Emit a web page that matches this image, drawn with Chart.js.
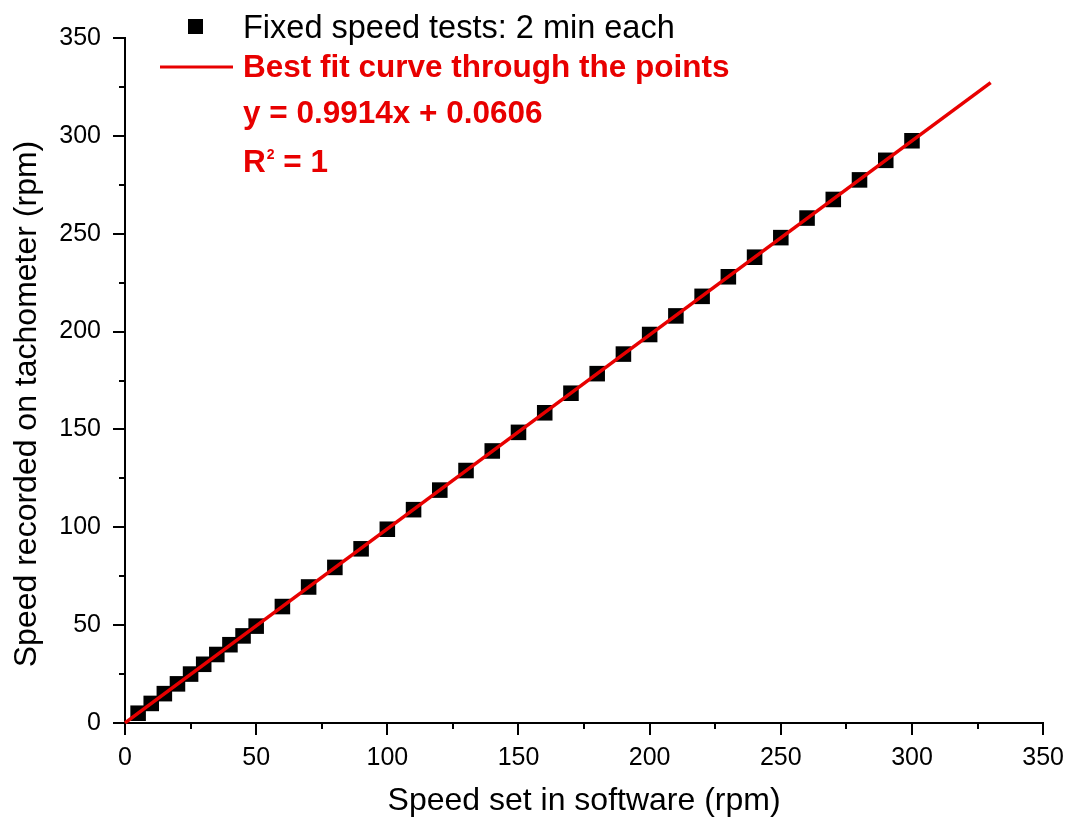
<!DOCTYPE html>
<html>
<head>
<meta charset="utf-8">
<script src="https://cdn.jsdelivr.net/npm/chart.js@4.4.0/dist/chart.umd.min.js"></script>
<style>
  html, body { margin: 0; padding: 0; background: #fff; }
  #wrap { width: 1072px; height: 825px; position: relative; }
</style>
</head>
<body>
<div id="wrap"><canvas id="speedChart"></canvas></div>
<script>
// Speed set in software (rpm)
const speedSet = [5, 10, 15, 20, 25, 30, 35, 40, 45, 50, 60, 70, 80, 90, 100, 110, 120, 130, 140, 150,
  160, 170, 180, 190, 200, 210, 220, 230, 240, 250, 260, 270, 280, 290, 300];
const speedMeasured = [5, 10, 15, 20, 25, 30, 35, 40, 44.5, 49.5, 59.5, 69.5, 79.5, 89, 99, 109, 119, 129, 139, 148.5,
  158.5, 168.5, 178.5, 188.5, 198.5, 208, 218, 228, 238, 248, 258, 267.5, 277.5, 287.5, 297.5];
// best fit line end points
const fitX = [0, 330];
const fitY = [0.06, 327.2];

const legendLabels = ['Fixed speed tests: 2 min each', 'Best fit curve through the points'];
const fitEquation = 'y = 0.9914x + 0.0606';
const yTitle = 'Speed recorded on tachometer (rpm)';
const xTitle = 'Speed set in software (rpm)';

const FONT = "'Liberation Sans', Arial, Helvetica, sans-serif";
const RED = '#e80000';

const pointData = speedSet.map((x, i) => ({ x, y: speedMeasured[i] }));
const fitData = fitX.map((x, i) => ({ x, y: fitY[i] }));

// minor ticks, y title and the in-plot legend
const decorations = {
  id: 'decorations',
  afterDraw(chart) {
    const { ctx, chartArea, scales: { x, y } } = chart;
    ctx.save();
    ctx.strokeStyle = '#000';
    ctx.lineWidth = 2;
    ctx.beginPath();
    x.ticks.forEach(t => {
      if (t.value % 50 === 0) return;
      const px = Math.round(x.getPixelForValue(t.value));
      ctx.moveTo(px, chartArea.bottom);
      ctx.lineTo(px, chartArea.bottom + 6);
    });
    y.ticks.forEach(t => {
      if (t.value % 50 === 0) return;
      const py = Math.round(y.getPixelForValue(t.value));
      ctx.moveTo(chartArea.left, py);
      ctx.lineTo(chartArea.left - 6, py);
    });
    ctx.stroke();

    // y axis title
    ctx.save();
    ctx.translate(27, 404);
    ctx.rotate(-Math.PI / 2);
    ctx.font = '32px ' + FONT;
    ctx.fillStyle = '#000';
    ctx.textAlign = 'center';
    ctx.textBaseline = 'middle';
    ctx.fillText(yTitle, 0, 0);
    ctx.restore();

    // legend
    const tx = chartArea.left + 118;
    ctx.fillStyle = '#000';
    ctx.fillRect(chartArea.left + 63, 19, 15, 15);
    ctx.textAlign = 'left';
    ctx.textBaseline = 'alphabetic';
    ctx.font = '32.5px ' + FONT;
    ctx.fillText(legendLabels[0], tx, 38);

    ctx.strokeStyle = RED;
    ctx.lineWidth = 3;
    ctx.beginPath();
    ctx.moveTo(chartArea.left + 35, 67);
    ctx.lineTo(chartArea.left + 108, 67);
    ctx.stroke();

    ctx.fillStyle = RED;
    ctx.font = 'bold 31.5px ' + FONT;
    ctx.fillText(legendLabels[1], tx, 77);
    ctx.fillText(fitEquation, tx, 123);
    ctx.fillText('R', tx, 172);
    const rw = ctx.measureText('R').width;
    ctx.font = 'bold 14px ' + FONT;
    ctx.fillText('2', tx + rw + 1, 159);
    const sw = ctx.measureText('2').width;
    ctx.font = 'bold 31.5px ' + FONT;
    ctx.fillText(' = 1', tx + rw + sw + 1, 172);
    ctx.restore();
  }
};

const majorTickColor = c => (c.tick && c.tick.value % 50 === 0 ? '#000' : 'rgba(0,0,0,0)');

new Chart(document.getElementById('speedChart'), {
  type: 'scatter',
  data: {
    datasets: [
      {
        label: legendLabels[1],
        data: fitData,
        showLine: true,
        borderColor: RED,
        borderWidth: 3.5,
        pointRadius: 0,
        order: 0,
      },
      {
        label: legendLabels[0],
        data: pointData,
        pointStyle: 'rect',
        pointRadius: 11,
        backgroundColor: '#000',
        borderColor: '#000',
        borderWidth: 0,
        order: 1,
      },
    ],
  },
  options: {
    responsive: true,
    maintainAspectRatio: false,
    animation: false,
    clip: false,
    layout: { padding: { top: 38, right: 27, left: 0, bottom: 0 } },
    plugins: {
      legend: { display: false },
      tooltip: { enabled: false },
    },
    scales: {
      x: {
        type: 'linear',
        min: 0,
        max: 350,
        afterFit: s => { s.height = 102; },
        border: { display: true, color: '#000', width: 2 },
        grid: {
          drawOnChartArea: false,
          drawTicks: true,
          tickLength: 12,
          lineWidth: 2,
          color: majorTickColor,
        },
        ticks: {
          stepSize: 25,
          autoSkip: false,
          maxRotation: 0,
          padding: 8,
          color: '#000',
          font: { family: FONT, size: 25 },
          callback: v => (v % 50 === 0 ? v : ''),
        },
        title: {
          display: true,
          text: xTitle,
          color: '#000',
          font: { family: FONT, size: 32 },
          padding: { top: 0, bottom: 5 },
        },
      },
      y: {
        type: 'linear',
        min: 0,
        max: 350,
        afterFit: s => { s.width = 125; },
        border: { display: true, color: '#000', width: 2 },
        grid: {
          drawOnChartArea: false,
          drawTicks: true,
          tickLength: 12,
          lineWidth: 2,
          color: majorTickColor,
        },
        ticks: {
          stepSize: 25,
          autoSkip: false,
          padding: 12,
          color: '#000',
          font: { family: FONT, size: 25 },
          callback: v => (v % 50 === 0 ? v : ''),
        },
      },
    },
  },
  plugins: [decorations],
});
</script>
</body>
</html>
